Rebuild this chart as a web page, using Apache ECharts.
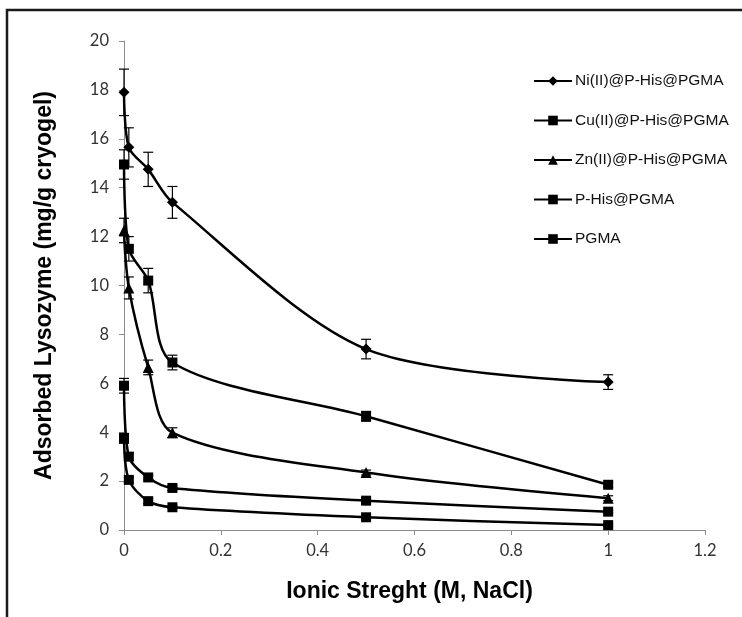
<!DOCTYPE html>
<html>
<head>
<meta charset="utf-8">
<script src="https://cdn.jsdelivr.net/npm/echarts@6/dist/echarts.min.js"></script>
<style>
  html, body { margin: 0; padding: 0; background: #fff; }
  #chart { width: 742px; height: 617px; }
</style>
</head>
<body>
<div id="chart"></div>
<script>
// Ionic strength (M NaCl)
const ionicStrength = [0, 0.01, 0.05, 0.1, 0.5, 1];

// Adsorbed lysozyme (mg/g cryogel) for each cryogel
const seriesNames = ['Ni(II)@P-His@PGMA', 'Cu(II)@P-His@PGMA', 'Zn(II)@P-His@PGMA', 'P-His@PGMA', 'PGMA'];
const niValues   = [17.9, 15.65, 14.75, 13.4, 7.4, 6.05];
const cuValues   = [14.95, 11.5, 10.2, 6.85, 4.65, 1.85];
const znValues   = [12.25, 9.9, 6.65, 3.98, 2.35, 1.3];
const phisValues = [5.9, 3.0, 2.15, 1.72, 1.2, 0.75];
const pgmaValues = [3.75, 2.05, 1.18, 0.93, 0.52, 0.2];

// Standard deviations
const niErr   = [0.95, 0.8, 0.7, 0.65, 0.4, 0.3];
const cuErr   = [0.6, 0.5, 0.5, 0.3, 0.2, 0.1];
const znErr   = [0.5, 0.45, 0.3, 0.2, 0.1, 0.1];
const phisErr = [0.3, 0.15, 0.1, 0.1, 0.1, 0.05];
const pgmaErr = [0.2, 0.1, 0.1, 0.05, 0.05, 0.05];

// Axis ticks
const xTicks = [0, 0.2, 0.4, 0.6, 0.8, 1, 1.2];
const yTicks = [0, 2, 4, 6, 8, 10, 12, 14, 16, 18, 20];

const allValues = [niValues, cuValues, znValues, phisValues, pgmaValues];
const allErrors = [niErr, cuErr, znErr, phisErr, pgmaErr];
const symbols = ['diamond', 'rect', 'triangle', 'rect', 'rect'];
const symbolSizes = [11, 10, 11, 10, 10];

const chart = echarts.init(document.getElementById('chart'), null, { renderer: 'canvas' });

const lineSeries = seriesNames.map((name, i) => ({
  name: name,
  type: 'line',
  smooth: 0.3,
  data: ionicStrength.map((x, j) => [x, allValues[i][j]]),
  symbol: symbols[i],
  symbolSize: symbolSizes[i],
  showAllSymbol: true,
  lineStyle: { color: '#000', width: 2.5 },
  itemStyle: { color: '#000' },
  z: 3
}));

// Error bars drawn as I-beams
const errorData = [];
allValues.forEach((vals, i) => {
  vals.forEach((v, j) => {
    errorData.push([ionicStrength[j], v - allErrors[i][j], v + allErrors[i][j]]);
  });
});

const errorSeries = {
  type: 'custom',
  data: errorData,
  z: 2,
  silent: true,
  renderItem: function (params, api) {
    const x = api.value(0);
    const lo = api.coord([x, api.value(1)]);
    const hi = api.coord([x, api.value(2)]);
    const hw = 5;
    const style = { stroke: '#000', lineWidth: 1.2, fill: null };
    return {
      type: 'group',
      children: [
        { type: 'line', shape: { x1: lo[0], y1: lo[1], x2: hi[0], y2: hi[1] }, style: style },
        { type: 'line', shape: { x1: lo[0] - hw, y1: lo[1], x2: lo[0] + hw, y2: lo[1] }, style: style },
        { type: 'line', shape: { x1: hi[0] - hw, y1: hi[1], x2: hi[0] + hw, y2: hi[1] }, style: style }
      ]
    };
  },
  encode: { x: 0, y: [1, 2] }
};

const axisLabelStyle = { color: '#333', fontFamily: 'Lato', fontSize: 16.5 };

chart.setOption({
  backgroundColor: '#fff',
  animation: false,
  graphic: [{
    type: 'rect',
    shape: { x: 7, y: 10, width: 800, height: 700 },
    style: { fill: null, stroke: '#1a1a1a', lineWidth: 2.5 },
    silent: true
  }],
  grid: { left: 124, right: 37, top: 41, bottom: 87, containLabel: false },
  legend: {
    data: seriesNames,
    orient: 'vertical',
    left: 533,
    top: 73,
    padding: 0,
    itemWidth: 38,
    itemHeight: 12,
    itemGap: 23.5,
    textStyle: { color: '#111', fontFamily: 'Liberation Sans', fontSize: 15.5, padding: [0, 0, 0, -2] }
  },
  xAxis: {
    type: 'value',
    min: 0,
    max: 1.2,
    interval: 0.2,
    name: 'Ionic Streght (M, NaCl)',
    nameLocation: 'middle',
    nameGap: 50,
    nameTextStyle: { fontFamily: 'Liberation Sans', fontWeight: 'bold', fontSize: 23, color: '#000', padding: [0, 10, 0, 0] },
    axisLine: { lineStyle: { color: '#8c8c8c', width: 1 } },
    axisTick: { show: true, inside: false, length: 5, lineStyle: { color: '#8c8c8c' } },
    axisLabel: Object.assign({ margin: 12, formatter: v => {
      const t = xTicks.find(k => Math.abs(k - v) < 1e-9);
      return t === undefined ? '' : String(t);
    } }, axisLabelStyle),
    splitLine: { show: false }
  },
  yAxis: {
    type: 'value',
    min: 0,
    max: 20,
    interval: 2,
    name: 'Adsorbed Lysozyme (mg/g cryogel)',
    nameLocation: 'middle',
    nameGap: 68,
    nameRotate: 90,
    nameTextStyle: { fontFamily: 'Liberation Sans', fontWeight: 'bold', fontSize: 23, color: '#000', padding: [0, 0, 0, 0] },
    axisLine: { show: true, lineStyle: { color: '#8c8c8c', width: 1 } },
    axisTick: { show: true, inside: false, length: 5, lineStyle: { color: '#8c8c8c' } },
    axisLabel: Object.assign({ margin: 15, formatter: v => {
      const t = yTicks.find(k => Math.abs(k - v) < 1e-9);
      return t === undefined ? '' : String(t);
    } }, axisLabelStyle),
    splitLine: { show: false }
  },
  series: [errorSeries].concat(lineSeries)
});
</script>
</body>
</html>
